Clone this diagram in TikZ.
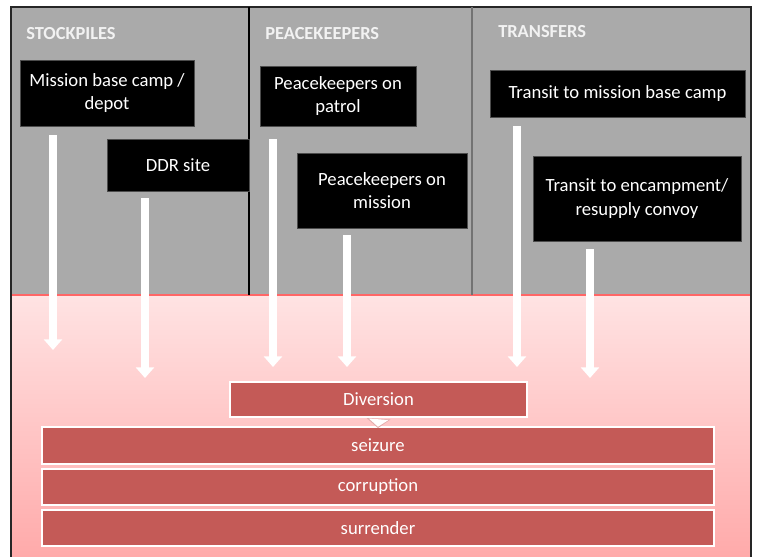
\documentclass[tikz,border=0pt]{standalone}
\usepackage{fontspec}
\setmainfont{Carlito}
\usetikzlibrary{arrows.meta,shadows}
\definecolor{panelgray}{HTML}{AAAAAA}
\definecolor{barred}{HTML}{C45A57}
\definecolor{pinktop}{HTML}{FFE3E3}
\definecolor{pinkbot}{HTML}{FFAAAA}
\definecolor{hdrwhite}{HTML}{F2F2F2}
\def\pxu{0.75pt}
\tikzset{
  blackbox/.style={fill=black, draw=black!70, line width=0.6pt, text=white, align=center,
    font=\fontsize{14}{17.5}\selectfont, inner sep=0pt},
  header/.style={anchor=west, text=hdrwhite, font=\fontsize{13.8}{14}\selectfont\bfseries, inner sep=0pt},
  redbar/.style={fill=barred, draw=white, line width=1.6pt, text=white, inner sep=0pt,
    font=\fontsize{14}{15}\selectfont,
    drop shadow={shadow xshift=0.9pt, shadow yshift=-0.9pt, fill=black!50, opacity=0.35}},
  bigarrow/.style={draw=white, line width=6pt, -{Triangle[width=13.5pt,length=8pt]}},
}
\begin{document}
\begin{tikzpicture}[x=0.75pt,y=-0.75pt]
\useasboundingbox (0,0) rectangle (757,557);
% background panels
\fill[white] (0,0) rectangle (757,557);
\fill[panelgray] (11,7) rectangle (751,295);
\shade[top color=pinktop, bottom color=pinkbot] (11,295) rectangle (751,557);
\draw[red!60!white, line width=0.8pt] (11,295) -- (751,295);
\draw[black!85, line width=1.2pt] (11,557) -- (11,7) -- (751,7) -- (751,557);
\draw[black, line width=1.6pt] (249,7) -- (249,295);
\draw[black!55, line width=1.2pt] (472,7) -- (472,295);

% headers
\node[header] (hs) at (26,34) {STOCKPILES};
\node[header] (hp) at (265,34) {PEACEKEEPERS};
\node[header] (ht) at (498,32) {TRANSFERS};

% black boxes
\node[blackbox, minimum width=174*\pxu, minimum height=66*\pxu] (mb) at (107,93) {Mission base camp /\\depot};
\node[blackbox, minimum width=142*\pxu, minimum height=52*\pxu] (ddr) at (178,165) {DDR site};
\node[blackbox, minimum width=156*\pxu, minimum height=60*\pxu] (pkp) at (338,96) {Peacekeepers on\\patrol};
\node[blackbox, minimum width=170*\pxu, minimum height=75*\pxu] (pkm) at (382,190.5) {Peacekeepers on\\mission};
\node[blackbox, minimum width=255*\pxu, minimum height=47*\pxu] (tb) at (617.5,93.5) {Transit to mission base camp};
\node[blackbox, minimum width=208*\pxu, minimum height=85*\pxu] (te) at (637,198.5) {Transit to encampment/\\resupply convoy};

% red bars
\node[redbar, minimum width=297*\pxu, minimum height=35*\pxu] (div) at (378.5,399.5) {Diversion};
\node[redbar, minimum width=672*\pxu, minimum height=37*\pxu] (sz) at (378,445.5) {seizure};
\node[redbar, minimum width=672*\pxu, minimum height=36*\pxu] (co) at (378,487) {corruption};
\node[redbar, minimum width=672*\pxu, minimum height=36*\pxu] (su) at (378,528) {surrender};

% arrow end points
\coordinate (s1) at (53,135);  \coordinate (e1) at (53,350);
\coordinate (s2) at (145,198); \coordinate (e2) at (145,378);
\coordinate (s3) at (273,139); \coordinate (e3) at (273,367);
\coordinate (s4) at (347,235); \coordinate (e4) at (347,367);
\coordinate (s5) at (517,126); \coordinate (e5) at (517,367);
\coordinate (s6) at (590,249); \coordinate (e6) at (590,378);

\draw[bigarrow] (s1) -- (e1);
\draw[bigarrow] (s2) -- (e2);
\draw[bigarrow] (s3) -- (e3);
\draw[bigarrow] (s4) -- (e4);
\draw[bigarrow] (s5) -- (e5);
\draw[bigarrow] (s6) -- (e6);

% small arrow diversion -> seizure
\draw[draw=barred!50!white, line width=8.6pt, -{Triangle[width=17.5pt,length=7pt]}] ([yshift=-1.2pt]div.south) -- ([yshift=-1.6pt]sz.north);
\draw[draw=white, line width=6.6pt, -{Triangle[width=14.5pt,length=5.6pt]}] ([yshift=-1.8pt]div.south) -- ([yshift=-0.6pt]sz.north);
\end{tikzpicture}
\end{document}
